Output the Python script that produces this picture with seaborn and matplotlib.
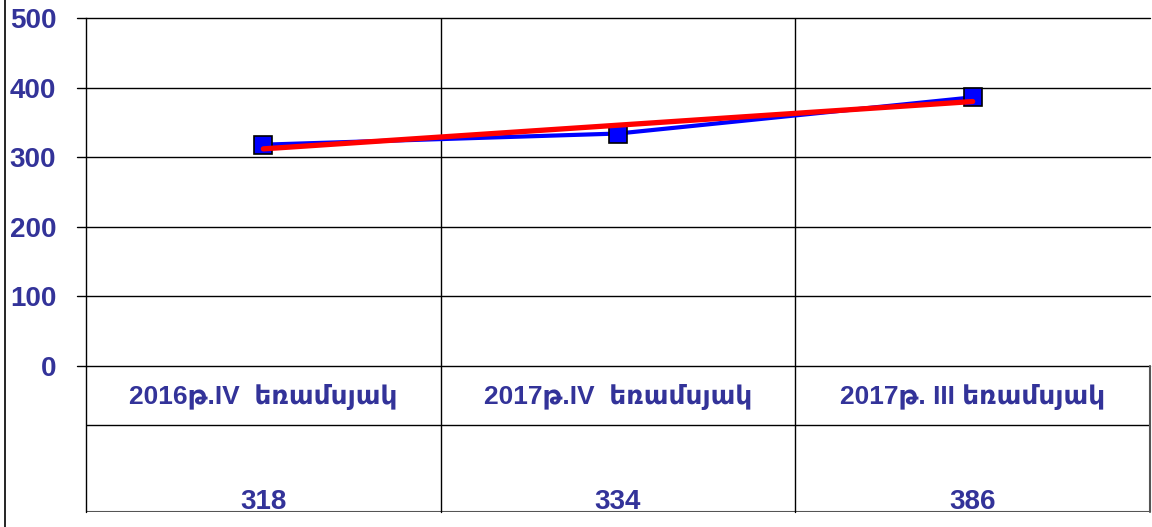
import numpy as np
import pandas as pd
import matplotlib.pyplot as plt
import seaborn as sns
from matplotlib.lines import Line2D

categories = ["2016թ.IV  եռամսյակ", "2017թ.IV  եռամսյակ", "2017թ. III եռամսյակ"]
values = [318, 334, 386]
yticks = [0, 100, 200, 300, 400, 500]

text_color = "#333399"
fonts = ["Liberation Sans", "DejaVu Sans"]

sns.set_style("white")
plt.rcParams["font.family"] = fonts

df = pd.DataFrame({"pos": np.arange(len(categories)), "value": values})
slope, icpt = np.polyfit(df["pos"], df["value"], 1)
df["trend"] = icpt + slope * df["pos"]

W, H = 1152, 527
fig = plt.figure(figsize=(W / 100, H / 100), dpi=100)
ax = fig.add_axes([86 / W, (H - 366) / H, 1064 / W, 348 / H])

sns.lineplot(data=df, x="pos", y="value", ax=ax, color="#0000ff", lw=3,
             marker="s", markersize=13, markerfacecolor="#0000ff",
             markeredgecolor="black", markeredgewidth=1.2, zorder=3)
sns.lineplot(data=df, x="pos", y="trend", ax=ax, color="#ff0000", lw=3.8,
             solid_capstyle="round", zorder=4)

ax.set_xlim(-0.5, len(categories) - 0.5)
ax.set_ylim(0, 500)
ax.set_yticks(yticks)
ax.set_yticklabels([str(t) for t in yticks], fontsize=20, fontweight="bold",
                   color=text_color)
ax.set_xticks([])
ax.set_xlabel("")
ax.set_ylabel("")
ytr = ax.get_yaxis_transform()
for t in yticks:
    # gridline plus the small tick stub left of the axis
    ax.plot([-9 / 1064, 1], [t, t], transform=ytr, color="black", lw=1,
            clip_on=False, zorder=1)
for x in [0.5, 1.5]:
    ax.axvline(x, color="black", lw=1, zorder=1)
for s in ["top", "right", "bottom"]:
    ax.spines[s].set_visible(False)
ax.spines["left"].set_color("black")
ax.spines["left"].set_linewidth(1)
ax.tick_params(axis="y", left=False, pad=18)

# data table under the plot
tax = fig.add_axes([86 / W, (H - 512) / H, 1064 / W, 146 / H])
tax.set_xlim(-0.5, len(categories) - 0.5)
tax.set_ylim(0, 146)
tax.axis("off")
tax.axhline(87, color="black", lw=1)
tax.axhline(0, color="#555555", lw=1.5)
for x in [-0.5, 0.5, 1.5]:
    tax.plot([x, x], [0, 146], color="black", lw=1, clip_on=False)
tax.plot([len(categories) - 0.5] * 2, [0, 146], color="#555555", lw=1.5,
         clip_on=False)
for i, (c, v) in enumerate(zip(categories, values)):
    tax.text(i, 116, c, ha="center", va="center", fontsize=19,
             fontweight="bold", color=text_color)
    tax.text(i, 3, str(v), ha="center", va="baseline", fontsize=20,
             fontweight="bold", color=text_color)

fig.add_artist(Line2D([5 / W, 5 / W], [0, 1], color="black", lw=1.2))

fig.savefig("out.png", dpi=100)
